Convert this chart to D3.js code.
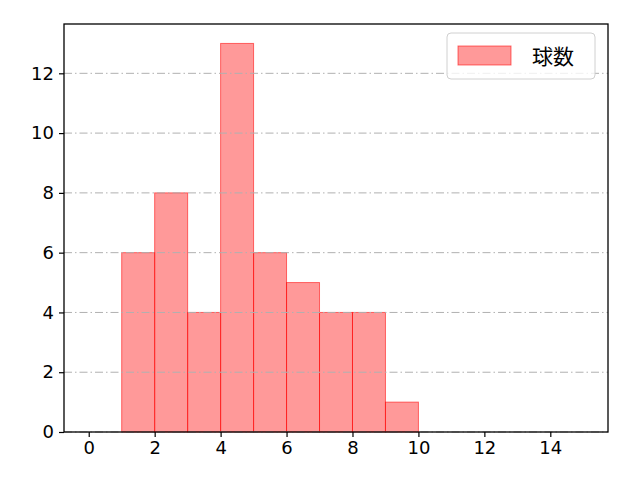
<!DOCTYPE html>
<html>
<head>
<meta charset="utf-8">
<script src="https://cdn.jsdelivr.net/npm/d3@7"></script>
<style>
  body { margin: 0; background: #fff; }
  text { font-family: "Noto Sans CJK JP", sans-serif; }
  .tick text { font-family: "DejaVu Sans", sans-serif; font-size: 18px; fill: #000; }
  .legend-label { font-size: 21px; fill: #000; }
</style>
</head>
<body>
<div id="chart"></div>
<script>
// histogram bins (left edge, right edge) and counts
var binStarts = [1, 2, 3, 4, 5, 6, 7, 8, 9];
var binEnds = [2, 3, 4, 5, 6, 7, 8, 9, 10];
var counts = [6, 8, 4, 13, 6, 5, 4, 4, 1];
var xTicks = [0, 2, 4, 6, 8, 10, 12, 14];
var yTicks = [0, 2, 4, 6, 8, 10, 12];
var seriesName = "球数";

var svgWidth = 640;
var svgHeight = 480;
var margin = { top: 24, right: 32, bottom: 48, left: 64 };
var width = svgWidth - margin.left - margin.right;
var height = svgHeight - margin.top - margin.bottom;

var svg = d3.select("#chart")
  .append("svg")
  .attr("width", svgWidth)
  .attr("height", svgHeight);

var g = svg.append("g")
  .attr("transform", `translate(${margin.left}, ${margin.top})`);

var data = counts.map((c, i) => ({ x0: binStarts[i], x1: binEnds[i], n: c }));

var x = d3.scaleLinear().domain([-0.75, 15.75]).range([0, width]);
var y = d3.scaleLinear().domain([0, 13 * 1.05]).range([height, 0]);

// bars
g.selectAll("rect.bar")
  .data(data)
  .enter()
  .append("rect")
  .attr("class", "bar")
  .attr("x", d => x(d.x0))
  .attr("y", d => y(d.n))
  .attr("width", d => x(d.x1) - x(d.x0))
  .attr("height", d => y(0) - y(d.n))
  .attr("fill", "rgba(255,0,0,0.4)")
  .attr("stroke", "rgba(255,0,0,0.55)")
  .attr("stroke-width", 1);

// grid (drawn over bars, like the reference)
g.selectAll("line.grid")
  .data(yTicks)
  .enter()
  .append("line")
  .attr("class", "grid")
  .attr("x1", 0)
  .attr("x2", width)
  .attr("y1", d => y(d))
  .attr("y2", d => y(d))
  .attr("stroke", "#b0b0b0")
  .attr("stroke-width", 1)
  .attr("stroke-dasharray", "8,3,1.5,3");

// axes
var xAxis = g.append("g")
  .attr("transform", `translate(0, ${height})`)
  .call(d3.axisBottom(x).tickValues(xTicks).tickSize(5).tickPadding(4));
var yAxis = g.append("g")
  .call(d3.axisLeft(y).tickValues(yTicks).tickSize(5).tickPadding(5));

[xAxis, yAxis].forEach(a => {
  a.select(".domain").remove();
  a.selectAll(".tick line").attr("stroke", "#000").attr("stroke-width", 1.2);
});

// frame
g.append("rect")
  .attr("width", width)
  .attr("height", height)
  .attr("fill", "none")
  .attr("stroke", "#000")
  .attr("stroke-width", 1.3);

// legend
var lg = g.append("g").attr("transform", `translate(${width - 161}, 9)`);
lg.append("rect")
  .attr("width", 148)
  .attr("height", 46)
  .attr("rx", 4)
  .attr("fill", "rgba(255,255,255,0.8)")
  .attr("stroke", "#d0d0d0");
lg.append("rect")
  .attr("x", 11)
  .attr("y", 13)
  .attr("width", 53)
  .attr("height", 19)
  .attr("fill", "rgba(255,0,0,0.4)")
  .attr("stroke", "rgba(255,0,0,0.55)");
lg.append("text")
  .attr("class", "legend-label")
  .attr("x", 85)
  .attr("y", 31)
  .text(seriesName);
</script>
</body>
</html>
